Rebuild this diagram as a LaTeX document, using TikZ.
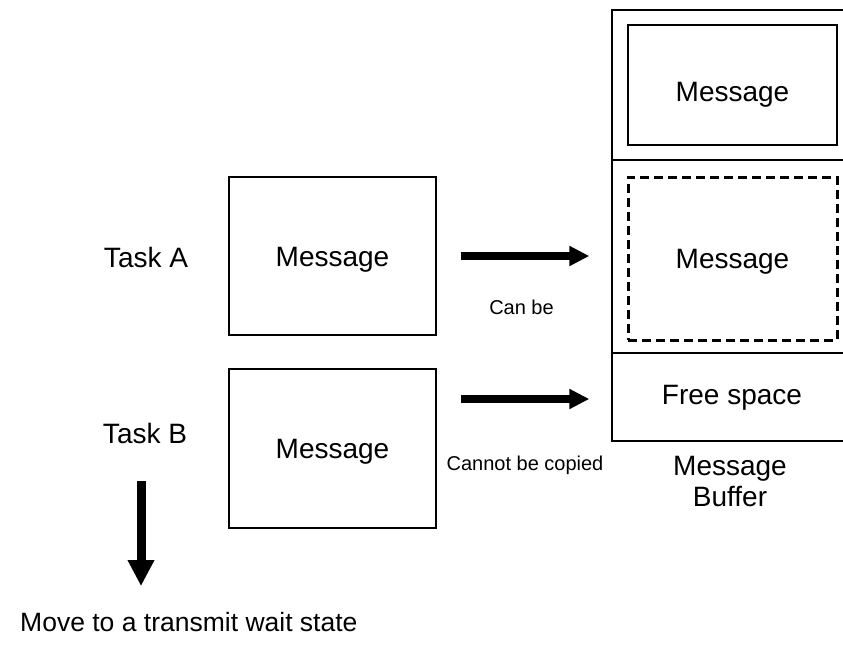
\documentclass[tikz,border=0pt]{standalone}
\usepackage{fontspec}
\setmainfont{Liberation Sans}
\usetikzlibrary{arrows.meta,positioning}
\newcommand\mainsize{\fontsize{28}{31}\selectfont}
\newcommand\notesize{\fontsize{20}{24}\selectfont}
\tikzset{
  cell/.style={draw, line width=1.4pt, minimum width=240pt, inner sep=0pt,
               font=\mainsize, text height=20pt, text depth=6pt},
  msgbox/.style={draw, line width=1.4pt, minimum width=207pt,
                 minimum height=158pt, inner sep=0pt, font=\mainsize,
                 text height=20pt, text depth=0pt},
  copybox/.style={msgbox, line width=3pt, dash pattern=on 9pt off 5pt},
  txt/.style={inner sep=0pt, font=\mainsize},
  note/.style={inner sep=0pt, font=\notesize},
  fat/.style={line width=8pt, -{Triangle[length=20pt,width=19pt]}},
  fatdown/.style={line width=9pt, -{Triangle[length=26pt,width=25pt]}},
}

\begin{document}
\begin{tikzpicture}[x=1pt, y=-1pt]
\clip (0,0) rectangle (843,654);
% message buffer
\node[cell, minimum height=150pt] (slot1) at (732,85) {};
\node[cell, minimum height=193pt] (slot2) at (732,256.5) {};
\node[cell, minimum height=88pt] (slot3) at (732,397) {Free space};
\node[msgbox, minimum width=209pt, minimum height=120pt, text height=32pt] (kept) at (732.5,85) {Message};
\node[copybox, minimum width=209pt, minimum height=163pt] (copied) at (732.5,258.5) {Message};
\node[txt, align=center] (bufname) at (730,481) {Message\\Buffer};
% sending tasks
\node[msgbox] (msgA) at (332.5,256) {Message};
\node[msgbox, minimum height=159pt] (msgB) at (332.5,448.5) {Message};
\node[txt] (taskA) at (146,257.5) {Task A};
\node[txt] (taskB) at (145,433) {Task B};
\draw[fat, shorten <=24pt, shorten >=22pt] (msgA.east) -- (msgA.east -| slot2.west);
\coordinate (inB) at ([yshift=-2pt]slot3.west);
\draw[fat, shorten <=24pt, shorten >=22pt] (inB -| msgB.east) -- (inB);
\node[note] (canA) at (521.5,307) {Can be};
\node[note] (cannotB) at (525,465) {Cannot be copied};
% task B waits
\node[txt, anchor=west, font=\fontsize{26.5}{31}\selectfont] (wait) at (20,622) {Move to a transmit wait state};
\coordinate (drop) at (141,481);
\draw[fatdown, shorten >=26pt] (drop) -- (drop |- wait.north);
\end{tikzpicture}
\end{document}
